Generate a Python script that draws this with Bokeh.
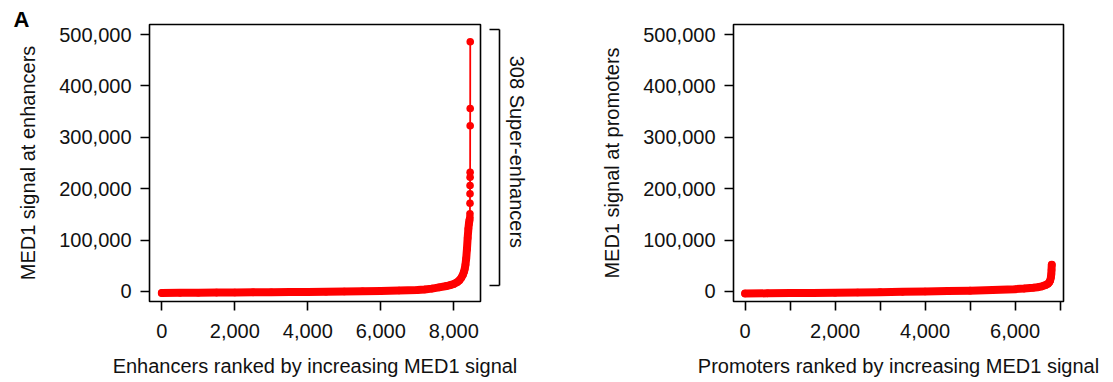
import math
from bokeh.plotting import figure
from bokeh.layouts import row
from bokeh.models import Range1d, FixedTicker, NumeralTickFormatter, LinearAxis
from bokeh.embed import file_html
from bokeh.resources import INLINE

# ---------------- data ----------------
enh_rank = [0, 500, 1000, 1500, 2000, 2500, 3000, 3500, 4000, 4500, 5000, 5500,
            6000, 6500, 7000, 7200, 7400, 7600, 7800, 7900, 8000, 8100, 8150,
            8200, 8250, 8280, 8300, 8320, 8340, 8360, 8380, 8400, 8415, 8430,
            8441, 8443, 8444, 8445, 8446, 8447, 8448, 8449, 8450, 8451]
enh_signal = [-3000, -2700, -2400, -2200, -2000, -1700, -1400, -1100, -800, -400,
              0, 500, 1000, 1800, 2900, 3800, 5600, 8000, 10600, 12300, 14500,
              18500, 21500, 26000, 32500, 38500, 44000, 52000, 64000, 82000,
              104000, 122000, 132000, 139000, 144600, 151200, 171800, 190000,
              206200, 222400, 232100, 322400, 356000, 485800]

prom_rank = [0, 500, 1000, 1500, 2000, 2500, 3000, 3500, 4000, 4500, 5000, 5500,
             6000, 6200, 6400, 6500, 6600, 6680, 6730, 6760, 6780, 6795, 6805,
             6810, 6815]
prom_signal = [-4000, -3600, -3200, -2800, -2400, -1900, -1300, -700, 0, 700,
               1600, 2800, 4500, 5600, 7200, 8300, 10000, 12500, 15000, 18000,
               21500, 27000, 34000, 42000, 52000]

n_super = 308
enh_xticks = [0, 2000, 4000, 6000, 8000]
prom_xticks = [0, 2000, 4000, 6000]
prom_xminor = [1000, 3000, 5000, 7000]
y_ticks = [0, 100000, 200000, 300000, 400000, 500000]

# ---------------- styling ----------------
FONT = "Liberation Sans"
RED = "#ff0000"
INK = "#111111"
FS = "20px"
DOT = 7.6
BAND = 8.0
DENSE_MAX = 142000   # above this the points are drawn individually

Y_RANGE = (-19500, 519500)


def style(p, xlabel, ylabel):
    p.outline_line_color = "black"
    p.outline_line_width = 1.6
    p.grid.visible = False
    p.background_fill_color = "white"
    p.border_fill_color = "white"
    for ax in p.axis:
        ax.axis_line_color = None
        ax.major_tick_in = 0
        ax.major_tick_out = 9
        ax.major_tick_line_width = 1.6
        ax.major_tick_line_color = "black"
        ax.minor_tick_in = 0
        ax.minor_tick_out = 9
        ax.minor_tick_line_width = 1.6
        ax.minor_tick_line_color = "black"
        ax.major_label_text_font = FONT
        ax.major_label_text_font_size = FS
        ax.major_label_text_color = INK
        ax.axis_label_text_font = FONT
        ax.axis_label_text_font_size = FS
        ax.axis_label_text_font_style = "normal"
        ax.axis_label_text_color = INK
        ax.formatter = NumeralTickFormatter(format="0,0")
    p.xaxis.axis_label = xlabel
    p.yaxis.axis_label = ylabel
    p.xaxis.major_label_standoff = 13
    p.xaxis.axis_label_standoff = 14
    p.yaxis.major_label_standoff = 9
    p.yaxis.axis_label_standoff = 17
    p.yaxis.ticker = FixedTicker(ticks=y_ticks, minor_ticks=[])


def draw_curve(p, xs, ys):
    dx = [x for x, y in zip(xs, ys) if y <= DENSE_MAX]
    dy = [y for y in ys if y <= DENSE_MAX]
    p.line(dx, dy, line_color=RED, line_width=BAND, line_join="round", line_cap="round")
    p.line(xs, ys, line_color=RED, line_width=1.8)
    p.scatter(xs, ys, size=DOT, color=RED, line_color=None)


# ---------------- left panel: enhancers ----------------
pL = figure(width=552, height=382, x_range=Range1d(-337, 8732),
            y_range=Range1d(*Y_RANGE), output_backend="svg", toolbar_location=None,
            min_border_left=149, min_border_right=72, min_border_top=24,
            min_border_bottom=81)
style(pL, "Enhancers ranked by increasing MED1 signal", "MED1 signal at enhancers")
pL.xaxis.ticker = FixedTicker(ticks=enh_xticks, minor_ticks=[])
draw_curve(pL, enh_rank, enh_signal)

# panel letter
pL.title.text = "A"
pL.title.align = "left"
pL.title.offset = -136
pL.title.standoff = -15
pL.title.text_font = FONT
pL.title.text_font_size = "22px"
pL.title.text_font_style = "bold"
pL.title.text_color = "black"

# bracket marking the super-enhancers: an invisible spacer axis, then a bounded axis
SPACER_Y = 250000
spacer = LinearAxis(ticker=FixedTicker(ticks=[SPACER_Y], minor_ticks=[]),
                    major_label_overrides={SPACER_Y: ""},
                    axis_line_color=None, major_tick_in=0, major_tick_out=19,
                    major_tick_line_color="white", major_tick_line_alpha=0.01,
                    major_tick_line_width=1, minor_tick_in=0, minor_tick_out=0,
                    major_label_standoff=0, major_label_text_font=FONT,
                    major_label_text_font_size=FS)
pL.add_layout(spacer, "right")

BR_TOP, BR_BOT = 509100, 11700
# trailing no-break spaces lift the centred label to sit where the reference has it
br_label = f"{n_super} Super-enhancers" + "\u00a0" * 4
br = LinearAxis(bounds=(BR_BOT, BR_TOP),
                ticker=FixedTicker(ticks=[BR_BOT, BR_TOP], minor_ticks=[]),
                major_label_overrides={BR_BOT: "", BR_TOP: ""},
                axis_line_color="black", axis_line_width=1.6,
                major_tick_in=10, major_tick_out=0, major_tick_line_width=1.6,
                major_tick_line_color="black", minor_tick_in=0, minor_tick_out=0,
                minor_tick_line_color=None, major_label_standoff=0,
                major_label_text_font=FONT, major_label_text_font_size=FS,
                axis_label=br_label, axis_label_standoff=6,
                axis_label_text_font=FONT, axis_label_text_font_size=FS,
                axis_label_text_font_style="normal", axis_label_text_color=INK)
pL.add_layout(br, "right")

# ---------------- right panel: promoters ----------------
pR = figure(width=560, height=382, x_range=Range1d(-258, 7076),
            y_range=Range1d(*Y_RANGE), output_backend="svg", toolbar_location=None,
            min_border_left=181, min_border_right=49, min_border_top=24,
            min_border_bottom=81)
style(pR, "Promoters ranked by increasing MED1 signal", "MED1 signal at promoters")
pR.xaxis.ticker = FixedTicker(ticks=prom_xticks, minor_ticks=prom_xminor)
draw_curve(pR, prom_rank, prom_signal)

layout = row(pL, pR)
open("out.html", "w").write(file_html(layout, INLINE))
